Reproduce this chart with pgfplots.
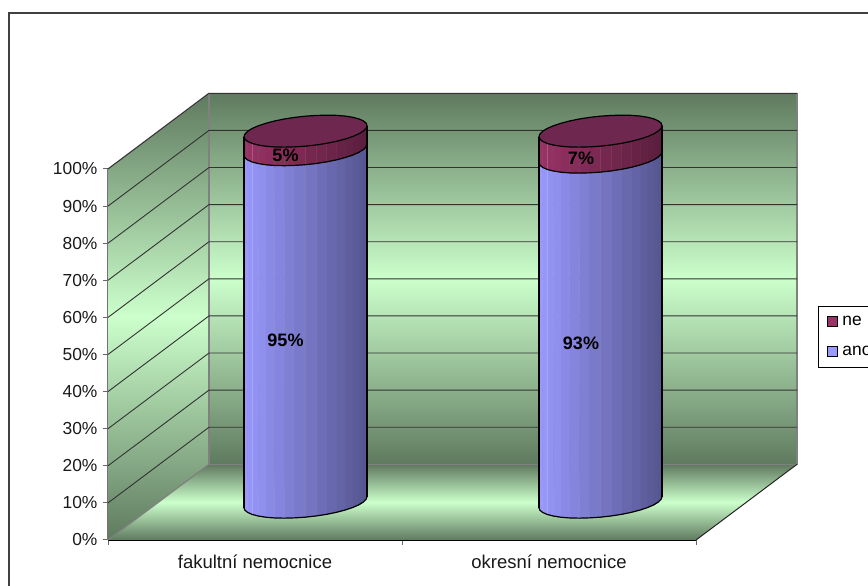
\documentclass[border=0pt]{standalone}
\usepackage{pgfplots}
\pgfplotsset{compat=1.18}
\usepackage{fontspec}
\setmainfont{Liberation Sans}

\definecolor{wallDark}{HTML}{5F7A5F}
\definecolor{wallLight}{HTML}{CCFFCC}
\definecolor{anoL}{HTML}{9999FF}
\definecolor{anoR}{HTML}{55558F}
\definecolor{neL}{HTML}{993366}
\definecolor{neR}{HTML}{5A1E3D}
\definecolor{neTop}{HTML}{6E2850}

% pixel-to-percent factor of the value axis, and centre height of the floor
\def\kk{0.2695}
\def\basey{10.2}

% one facet after another along the front of the cylinder: x offset / y offset / highlighted edge
\def\frontarc{-60.6/-8.07/0,-57.8/-10.3/0,-53.3/-12.3/0,-47.1/-13.9/1,-39.5/-15.1/0,-30.8/-15.8/0,-21.0/-16.0/0,-10.7/-15.7/0,0/-15.0/0,10.7/-13.8/1,21.0/-12.2/1,30.8/-10.2/1,39.5/-7.9/1,47.1/-5.4/1,53.3/-2.7/1,57.8/0.1/1,60.6/2.9/1,61.5/5.55/0}

% draw one shell of the cylinder between two heights
\newcommand\shell[6]{% cx, y0, y1, left colour, right colour, outline closes top
  \foreach \xb/\yb/\lit [remember=\xb as \xa (initially -61.5), remember=\yb as \ya (initially -5.55)] in \frontarc {
    \pgfmathsetmacro\xA{#1+\xa}\pgfmathsetmacro\xB{#1+\xb}
    \pgfmathsetmacro\yAa{#2+\ya*\kk}\pgfmathsetmacro\yAb{#3+\ya*\kk}
    \pgfmathsetmacro\yBa{#2+\yb*\kk}\pgfmathsetmacro\yBb{#3+\yb*\kk}
    \pgfmathtruncatemacro\shd{100-(\xa+\xb+123)/2.46}
    \edef\cmd{\noexpand\addplot[forget plot,fill=#4!\shd!#5,draw=#4!\shd!#5,line width=0.3pt]
      coordinates {(\xA,\yAa)(\xB,\yBa)(\xB,\yBb)(\xA,\yAb)} -- cycle;}\cmd
    \ifnum\lit=1
      \edef\cmd{\noexpand\addplot[forget plot,draw=white!22!#4!\shd!#5,line width=0.6pt]
        coordinates {(\xA,\yAa)(\xA,\yAb)};}\cmd
    \fi
  }
}

% the front edge of a horizontal section at height #2
\newcommand\frontedge[2]{%
  \pgfmathsetmacro\px{#1-61.5}\pgfmathsetmacro\py{#2-5.55*\kk}
  \xdef\pts{(\px,\py)}
  \foreach \xb/\yb/\lit in \frontarc {
    \pgfmathsetmacro\px{#1+\xb}\pgfmathsetmacro\py{#2+\yb*\kk}
    \xdef\pts{\pts(\px,\py)}
  }
  \edef\cmd{\noexpand\addplot[forget plot,black,line width=1.2pt] coordinates {\pts};}\cmd
}

% the whole top face at height #2
\newcommand\topface[2]{%
  \pgfmathsetmacro\px{#1-61.5}\pgfmathsetmacro\py{#2-5.55*\kk}
  \xdef\pts{(\px,\py)}
  \foreach \xb/\yb/\lit in \frontarc {
    \pgfmathsetmacro\px{#1+\xb}\pgfmathsetmacro\py{#2+\yb*\kk}
    \xdef\pts{\pts(\px,\py)}
  }
  \foreach \xb/\yb/\lit in \frontarc {
    \pgfmathsetmacro\px{#1-\xb}\pgfmathsetmacro\py{#2-\yb*\kk}
    \xdef\pts{\pts(\px,\py)}
  }
  \edef\cmd{\noexpand\addplot[forget plot,fill=neTop,draw=black,line width=1.2pt] coordinates {\pts} -- cycle;}\cmd
}

% a stacked cylinder: centre x, share of "ano", share of "ne"
\newcommand\cylinder[3]{%
  \pgfmathsetmacro\ytopA{\basey+#2}
  \pgfmathsetmacro\ytopB{\basey+#2+#3}
  \shell{#1}{\basey}{\ytopA}{anoL}{anoR}{0}
  \shell{#1}{\ytopA}{\ytopB}{neL}{neR}{0}
  \pgfmathsetmacro\xl{#1-61.5}\pgfmathsetmacro\xr{#1+61.5}
  \pgfmathsetmacro\yla{\basey-5.55*\kk}\pgfmathsetmacro\ylb{\ytopB-5.55*\kk}
  \pgfmathsetmacro\yra{\basey+5.55*\kk}\pgfmathsetmacro\yrb{\ytopB+5.55*\kk}
  \edef\cmd{\noexpand\addplot[forget plot,black,line width=1.2pt] coordinates {(\xl,\yla)(\xl,\ylb)};
    \noexpand\addplot[forget plot,black,line width=1.2pt] coordinates {(\xr,\yra)(\xr,\yrb)};}\cmd
  \frontedge{#1}{\basey}
  \frontedge{#1}{\ytopA}
  \topface{#1}{\ytopB}
}

\begin{document}
\begin{tikzpicture}
\path[use as bounding box,clip] (0,0) rectangle (868pt,586pt);
\draw[black!75,line width=1.2pt] (9pt,-5pt) -- (9pt,573pt) -- (880pt,573pt);
\begin{axis}[
  at={(108pt,46pt)},anchor=south west,
  scale only axis,width=588pt,height=371pt,
  xmin=0,xmax=588,ymin=0,ymax=100,
  clip=false,
  axis lines*=left,
  x axis line style={black,line width=1.2pt,-},
  y axis line style={black!55,line width=1.2pt,-},
  xtick={0,294,588},
  x tick label as interval,
  xticklabels={fakultní nemocnice,okresní nemocnice},
  ytick={0,10,...,100},
  yticklabels={0\%,10\%,20\%,30\%,40\%,50\%,60\%,70\%,80\%,90\%,100\%},
  tick style={black!60,line width=1pt},
  major tick length=5pt,
  tick align=outside,
  tick label style={font=\fontsize{17.4}{20}\selectfont,text=black!90},
  yticklabel style={xshift=-2pt},
  xticklabel style={yshift=-6pt,font=\fontsize{18.5}{20}\selectfont},
  legend style={at={(1.2075,0.6307)},anchor=north west,
    font=\fontsize{17.4}{20}\selectfont,draw=black,line width=0.8pt,
    inner xsep=9pt,inner ysep=8pt,row sep=15pt,
    nodes={inner xsep=4pt,inner ysep=2pt}},
  legend cell align=left,
  legend image code/.code={\draw[#1,draw=black,line width=1pt] (5pt,-5pt) rectangle (15pt,5pt);},
]
% back wall, floor and side wall
\addplot[forget plot,top color=wallDark,bottom color=wallDark,middle color=wallLight,draw=black!50,line width=1.2pt]
  coordinates {(101,20.4)(689,20.4)(689,120.4)(101,120.4)} -- cycle;
\addplot[forget plot,top color=wallDark,bottom color=wallDark,middle color=wallLight,draw=none]
  coordinates {(0,0)(588,0)(689,20.4)(101,20.4)} -- cycle;
\addplot[forget plot,top color=wallDark,bottom color=wallDark,middle color=wallLight,draw=none]
  coordinates {(0,0)(101,20.4)(101,120.4)(0,100)} -- cycle;
\addplot[forget plot,black!50,line width=1.2pt] coordinates {(0,0)(101,20.4)};
\addplot[forget plot,black!50,line width=1.2pt] coordinates {(0,100)(101,120.4)};
\addplot[forget plot,black!50,line width=1.2pt] coordinates {(101,20.4)(101,120.4)};
\addplot[forget plot,black!50,line width=1.2pt] coordinates {(101,20.4)(689,20.4)};
\addplot[forget plot,black!85,line width=1pt] coordinates {(588,0)(689,20.4)};

% gridlines along the side and back walls
\foreach \v in {10,20,...,100} {
  \pgfmathsetmacro\vb{\v+20.4}
  \edef\cmd{\noexpand\addplot[forget plot,black!80,line width=0.9pt] coordinates {(0,\v)(101,\vb)(689,\vb)};}\cmd
}

\cylinder{197.5}{95}{5}
\cylinder{492.5}{93}{7}

\node[font=\bfseries\fontsize{18}{20}\selectfont] at (axis cs:177.5,53.9) {95\%};
\node[font=\bfseries\fontsize{18}{20}\selectfont] at (axis cs:177.5,103.8) {5\%};
\node[font=\bfseries\fontsize{18}{20}\selectfont] at (axis cs:473,53.1) {93\%};
\node[font=\bfseries\fontsize{18}{20}\selectfont] at (axis cs:473,103) {7\%};

\addlegendimage{fill=neL}
\addlegendentry{ne}
\addlegendimage{fill=anoL}
\addlegendentry{ano}
\end{axis}
\end{tikzpicture}
\end{document}
